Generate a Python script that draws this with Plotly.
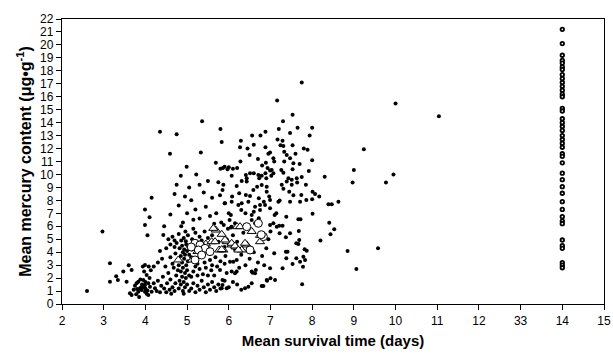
import plotly.graph_objects as go

# ---------------- data ----------------
x_tick_vals = [2, 3, 4, 5, 6, 7, 8, 9, 10, 11, 12, 13, 14, 15]
x_tick_text = ["2", "3", "4", "5", "6", "7", "8", "9", "10", "11", "12", "33", "14", "15"]

dots_far_left = [(2.6, 1.0), (2.97, 5.6), (3.15, 3.15), (3.15, 1.72), (3.3, 2.15), (3.34, 1.85),
                 (3.47, 2.5), (3.55, 1.72), (3.63, 0.83), (3.67, 0.69), (3.67, 2.63), (3.6, 3.0)]

dots_low_left = [(3.72, 1.1), (3.75, 1.4), (3.79, 1.6), (3.83, 1.72), (3.87, 1.21), (3.91, 1.08),
                 (3.83, 0.95), (3.78, 0.75), (3.85, 0.55), (3.88, 1.9), (3.92, 1.5), (3.95, 1.85),
                 (3.99, 1.47), (3.97, 2.5), (4.03, 2.24), (3.99, 3.01), (3.94, 2.9), (4.07, 1.6),
                 (4.11, 1.34), (3.99, 0.95), (4.07, 0.69), (4.15, 0.95), (4.23, 1.21), (4.0, 1.2),
                 (4.03, 0.8), (4.05, 1.05), (3.96, 1.3), (4.1, 2.0), (4.13, 2.6), (4.2, 1.6),
                 (4.27, 1.0), (4.3, 1.8), (4.35, 0.9), (4.38, 1.4), (4.42, 2.1), (4.45, 1.2),
                 (4.5, 0.9), (4.52, 1.6), (4.55, 2.4), (4.58, 1.1), (4.62, 0.8), (4.6, 1.9),
                 (4.65, 1.3), (4.68, 2.8), (4.7, 1.0), (4.72, 1.6), (4.74, 2.2), (4.48, 2.9),
                 (4.3, 3.2), (4.2, 2.9), (3.9, 1.3), (3.8, 1.15), (4.0, 1.7), (4.08, 2.9)]

dots_column5 = [(4.8, 1.2), (4.85, 1.5), (4.9, 1.0), (4.95, 1.3), (4.82, 1.8), (4.88, 2.1),
                (4.92, 1.7), (4.97, 2.0), (5.0, 1.5), (4.85, 2.5), (4.9, 2.8), (4.95, 2.4),
                (5.0, 2.6), (4.8, 3.0), (4.88, 3.2), (4.93, 3.5), (4.98, 3.0), (5.02, 3.3),
                (4.85, 3.7), (4.9, 4.0), (4.95, 3.8), (5.0, 4.1), (4.82, 4.3), (4.88, 4.5),
                (4.93, 4.2), (4.98, 4.6), (5.03, 4.4), (4.86, 4.9), (4.92, 5.1), (4.97, 4.85),
                (5.02, 5.3), (4.8, 5.4), (4.75, 4.7), (4.72, 3.9), (4.7, 4.4), (4.78, 2.6),
                (4.92, 0.8), (5.05, 1.0), (5.05, 2.2), (5.05, 3.8), (4.96, 5.6), (4.86, 6.0)]

dots_mid_low = [(5.1, 1.2), (5.15, 1.6), (5.2, 0.9), (5.25, 1.4), (5.3, 1.1), (5.35, 1.8),
                (5.4, 1.3), (5.45, 0.9), (5.5, 1.5), (5.55, 1.1), (5.6, 1.7), (5.65, 1.3),
                (5.7, 1.0), (5.75, 1.5), (5.8, 1.2), (5.85, 1.47), (5.83, 1.21), (5.95, 1.21),
                (5.9, 1.8), (5.79, 2.63), (5.85, 1.85), (5.1, 2.1), (5.15, 2.5), (5.2, 2.9),
                (5.25, 2.2), (5.3, 2.7), (5.38, 2.3), (5.45, 2.8), (5.5, 2.2), (5.58, 2.6),
                (5.65, 2.2), (5.72, 2.9), (5.1, 3.6), (5.12, 4.2), (5.25, 3.1), (5.42, 3.2),
                (5.55, 3.4), (5.68, 3.6), (5.8, 3.3), (5.9, 3.1), (5.95, 2.4), (5.92, 3.7),
                (5.6, 3.0), (5.12, 5.0), (5.2, 5.5), (5.3, 5.2), (5.42, 5.6), (5.5, 5.1),
                (5.6, 5.3), (5.75, 4.8), (5.9, 4.4), (5.95, 5.0), (5.98, 5.8), (5.35, 4.9),
                (5.15, 5.8)]

dots_mid_up = [(4.43, 5.33), (4.45, 6.0), (4.55, 5.0), (4.6, 4.6), (4.65, 5.2), (4.7, 4.9),
               (4.5, 4.3), (4.35, 4.1), (4.4, 3.5), (4.6, 3.6), (4.65, 3.1), (3.99, 7.3),
               (3.99, 6.1), (4.05, 5.3), (4.15, 8.2), (4.1, 6.7), (4.59, 11.6), (4.99, 10.6),
               (5.22, 10.0), (5.33, 11.7), (5.69, 10.9), (5.8, 10.45), (5.9, 10.6), (5.97, 10.4),
               (4.7, 8.5), (4.75, 9.2), (4.85, 9.9), (4.95, 8.3), (5.05, 9.0), (5.1, 8.0),
               (5.2, 7.3), (5.3, 6.6), (5.4, 8.6), (5.45, 7.5), (5.55, 6.8), (5.6, 8.2),
               (5.7, 7.0), (5.75, 9.4), (5.79, 8.4), (5.85, 8.8), (5.87, 9.2), (5.9, 7.78),
               (5.82, 6.3), (5.5, 9.5), (5.3, 9.2), (5.65, 6.2), (5.15, 6.5), (5.0, 7.0),
               (4.8, 7.6), (4.6, 6.9), (4.9, 6.3)]

dots_top_left = [(4.35, 13.3), (4.75, 13.1), (5.36, 14.1), (5.8, 13.5), (5.83, 12.5),
                 (6.29, 12.6), (6.27, 12.1), (6.28, 11.0)]

dots_six_up = [(5.86, 10.5), (6.0, 10.55), (6.1, 10.45), (6.2, 10.5), (6.07, 9.9), (6.41, 9.96),
               (6.51, 10.1), (6.43, 9.7), (6.71, 9.96), (6.79, 9.9), (6.73, 9.7), (6.88, 10.1),
               (6.99, 10.3), (7.02, 9.9), (6.9, 9.7), (6.6, 10.1), (6.56, 13.0), (6.76, 13.0),
               (6.88, 13.3), (6.88, 12.1), (6.99, 11.7), (6.95, 11.6), (6.89, 10.9), (6.93, 10.5),
               (6.19, 9.1), (6.31, 9.5), (6.43, 9.45), (6.59, 8.8), (6.68, 9.06), (6.79, 9.19),
               (6.91, 9.06), (6.91, 8.67), (6.97, 8.29), (6.99, 8.03), (6.08, 8.29), (6.25, 8.55),
               (6.41, 8.42), (6.51, 8.34), (6.72, 8.16), (6.84, 7.9), (5.91, 7.78), (6.07, 7.9),
               (6.23, 7.65), (6.31, 7.78), (6.47, 7.9), (6.63, 7.5), (6.75, 7.65), (6.87, 7.65),
               (6.99, 7.39), (6.0, 7.0), (6.05, 6.87), (6.3, 7.26), (6.4, 7.0), (6.55, 6.87),
               (6.6, 7.13), (6.75, 7.26), (6.72, 6.62), (6.02, 6.49), (6.15, 6.23), (6.07, 5.97),
               (5.88, 6.1), (6.55, 6.49), (6.63, 6.23), (6.99, 6.1), (7.07, 6.23), (6.5, 11.5),
               (6.6, 12.3), (6.7, 11.2), (6.45, 12.0), (6.8, 10.7)]

dots_seven_up = [(7.75, 17.1), (7.16, 15.7), (7.53, 14.6), (7.65, 13.6), (8.0, 13.6), (7.47, 13.2),
                 (7.94, 13.0), (7.17, 12.7), (7.29, 12.6), (7.53, 12.25), (7.24, 12.25), (7.31, 12.2),
                 (7.07, 11.25), (7.09, 11.0), (7.03, 10.35), (7.07, 10.1), (7.33, 11.76), (7.39, 11.5),
                 (7.47, 11.25), (7.33, 11.0), (7.55, 10.86), (7.53, 10.4), (7.26, 10.35), (7.31, 10.14),
                 (7.43, 9.7), (7.51, 9.6), (7.63, 9.7), (7.75, 9.8), (7.64, 9.37), (7.51, 9.2),
                 (7.39, 9.45), (7.27, 9.2), (7.31, 8.9), (7.45, 8.67), (7.55, 8.4), (7.89, 11.9),
                 (8.0, 11.1), (7.92, 10.27), (8.3, 9.83), (8.01, 8.67), (8.07, 8.5), (8.17, 8.29),
                 (8.39, 7.7), (8.47, 7.7), (8.63, 7.9), (7.19, 7.9), (7.47, 7.9), (7.71, 7.9),
                 (7.22, 7.98), (7.74, 8.42), (7.86, 8.03), (8.0, 8.08), (7.1, 6.87),
                 (7.14, 7.0), (7.38, 6.74), (8.01, 6.97), (7.21, 6.05), (7.29, 6.05), (7.15, 5.97),
                 (7.67, 6.54), (7.72, 6.54), (8.41, 6.28), (8.53, 5.77), (8.44, 5.38), (8.2, 4.9),
                 (7.8, 12.0), (7.6, 11.6), (7.7, 10.8), (7.85, 9.2), (7.3, 14.1), (7.2, 13.5)]

dots_seven_low = [(7.22, 5.46), (7.37, 5.15), (7.47, 5.46), (7.68, 5.64), (7.69, 4.94), (7.62, 4.69),
                  (7.67, 4.63), (7.41, 4.04), (7.37, 4.04), (7.09, 3.91), (7.82, 4.22), (7.87, 4.12),
                  (7.79, 3.65), (7.83, 3.4), (7.71, 3.27), (7.53, 3.09), (7.38, 3.53), (7.62, 3.53),
                  (7.78, 2.88), (7.29, 2.76), (6.99, 2.76), (7.11, 1.85), (7.0, 1.98), (6.92, 1.8),
                  (6.83, 1.39), (6.65, 2.63), (6.57, 2.42), (7.76, 1.52)]

dots_six_low = [(6.03, 3.27), (6.11, 3.27), (6.19, 3.4), (6.07, 2.5), (6.15, 2.37), (6.19, 2.5),
                (6.55, 2.5), (6.63, 2.37), (6.91, 1.85), (6.39, 1.21), (6.47, 1.34), (6.55, 1.6),
                (6.79, 1.39), (6.2, 1.5), (6.3, 1.1), (6.1, 1.7), (6.0, 1.3), (6.25, 2.8),
                (6.4, 3.0), (6.5, 3.5), (6.7, 3.2), (6.85, 3.0), (6.6, 4.0), (6.3, 3.8),
                (6.2, 4.8), (6.1, 5.3), (6.9, 4.3), (6.95, 5.0), (7.0, 5.6), (6.05, 5.9),
                (6.35, 5.5), (6.15, 4.2), (6.8, 3.7)]

dots_far_right = [(10.0, 15.47), (11.04, 14.5), (9.24, 11.95), (9.0, 10.35), (9.95, 10.0),
                  (8.97, 9.37), (9.77, 9.37), (8.85, 4.1), (9.58, 4.3), (9.06, 2.7)]

circles = [(5.19, 4.69), (5.31, 4.56), (5.43, 4.3), (5.55, 4.04), (5.27, 4.17), (5.19, 3.4),
           (5.35, 3.78), (6.43, 5.97), (6.71, 6.23), (6.83, 5.2), (6.51, 4.17), (6.78, 5.35),
           (5.1, 4.4)]

triangles = [(4.79, 3.4), (5.12, 3.4), (5.45, 4.63), (5.59, 4.81), (5.69, 5.71), (5.83, 5.38),
             (5.67, 4.81), (5.77, 4.17), (5.87, 4.17), (5.95, 4.81), (6.07, 4.56), (6.17, 4.4),
             (6.31, 4.17), (6.43, 4.56), (6.2, 5.97), (6.75, 4.81), (6.75, 5.3), (5.39, 4.43),
             (5.25, 4.05), (5.63, 5.84), (5.91, 4.94), (6.07, 4.69), (6.15, 4.48), (6.23, 4.17),
             (6.39, 4.69), (6.27, 5.97), (5.83, 4.2), (5.5, 4.2), (6.55, 5.6)]

col14_x = 14
col14_y = [21.2, 20.1, 19.2, 18.8, 18.6, 18.3, 18.1, 17.7, 17.4, 17.1, 16.8, 16.5, 16.2, 16.0,
           15.1, 14.9, 14.3, 14.0, 13.7, 13.4, 13.0, 12.7, 12.4, 12.1, 11.6, 11.4, 10.9, 10.1,
           9.6, 9.06, 8.55, 7.9, 7.3, 6.74, 6.4, 6.2, 4.94, 4.5, 4.3, 3.2, 3.0, 2.8]

# ---------------- figure ----------------
all_dots = (dots_far_left + dots_low_left + dots_column5 + dots_mid_low + dots_mid_up +
            dots_top_left + dots_six_up + dots_seven_up + dots_seven_low + dots_six_low +
            dots_far_right)

fig = go.Figure()
fig.add_trace(go.Scatter(
    x=[p[0] for p in all_dots], y=[p[1] for p in all_dots], mode="markers",
    marker=dict(size=4, color="black"), showlegend=False))
fig.add_trace(go.Scatter(
    x=[p[0] for p in triangles], y=[p[1] for p in triangles], mode="markers",
    marker=dict(size=8, symbol="triangle-up", color="white", line=dict(color="black", width=1)),
    showlegend=False))
fig.add_trace(go.Scatter(
    x=[p[0] for p in circles], y=[p[1] for p in circles], mode="markers",
    marker=dict(size=8, symbol="circle", color="white", line=dict(color="black", width=1)),
    showlegend=False))
fig.add_trace(go.Scatter(
    x=[col14_x] * len(col14_y), y=col14_y, mode="markers",
    marker=dict(size=3.5, symbol="circle", color="white", line=dict(color="black", width=1.8)),
    showlegend=False))

font_family = "Arial, Liberation Sans, sans-serif"
fig.update_layout(
    width=613, height=355,
    margin=dict(l=62, r=9, t=19, b=51, autoexpand=False),
    paper_bgcolor="white", plot_bgcolor="white",
    font=dict(family=font_family, size=12, color="black"),
    xaxis=dict(range=[2, 15], tickvals=x_tick_vals, ticktext=x_tick_text,
               showgrid=False, zeroline=False, showline=True, mirror=True,
               linecolor="black", linewidth=1.3, ticks="outside", ticklen=5,
               tickwidth=1, tickcolor="black", tickfont=dict(size=12),
               title=dict(text="<b>Mean survival time (days)</b>", font=dict(size=15), standoff=8)),
    yaxis=dict(range=[0, 22], dtick=1, tick0=0,
               showgrid=False, zeroline=False, showline=True, mirror=True,
               linecolor="black", linewidth=1.3, ticks="outside", ticklen=5,
               tickwidth=1, tickcolor="black", tickfont=dict(size=12),
               title=dict(text="<b>Mean mercury content (μg•g<sup>-1</sup>)</b>",
                          font=dict(size=16), standoff=4)),
)

fig.write_html("out.html")
